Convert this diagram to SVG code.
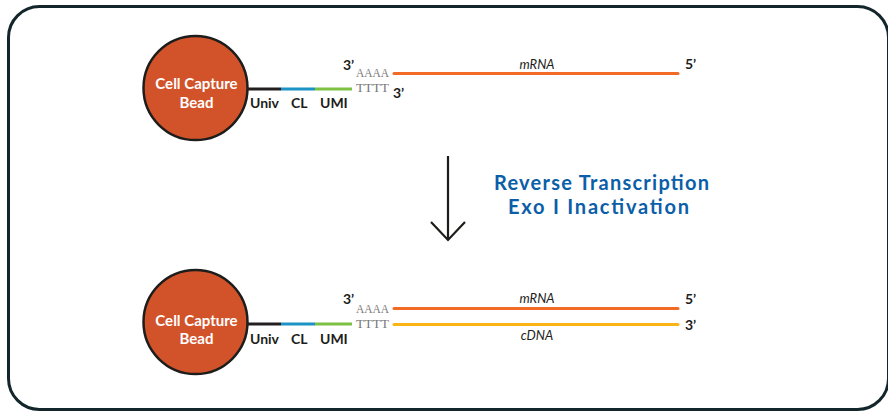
<svg xmlns="http://www.w3.org/2000/svg" width="888" height="411" viewBox="0 0 888 411">
  <style>
    .frame { fill: #ffffff; stroke: #13262b; stroke-width: 3; }
    .bead { fill: #d2532a; stroke: #1d1d1b; stroke-width: 2.5; }
    .beadtxt { font-family: Lato, "Open Sans", sans-serif; font-weight: bold; font-size: 15px; fill: #ffffff; text-anchor: middle; }
    .seg { stroke-width: 3; fill: none; }
    .lbl { font-family: Lato, "Open Sans", sans-serif; font-weight: bold; font-size: 14px; fill: #1d1d1b; }
    .end { font-family: Lato, "Open Sans", sans-serif; font-weight: bold; font-size: 14px; fill: #1d1d1b; }
    .mono { font-family: "Liberation Serif", "DejaVu Serif", serif; font-size: 12.5px; fill: #7a7a7a; }
    .strand { font-family: Lato, "Open Sans", sans-serif; font-style: italic; font-size: 13px; fill: #1d1d1b; text-anchor: middle; }
    .step { font-family: Lato, "Open Sans", sans-serif; font-weight: bold; font-size: 20px; fill: #0b5ea8; }
  </style>

  <rect class="frame" x="8.5" y="6.5" width="880" height="403" rx="31" ry="31"/>

  <!-- Before reverse transcription -->
  <g id="bead-top">
    <circle class="bead" cx="195.5" cy="88" r="52"/>
    <text class="beadtxt" x="196.5" y="89">Cell Capture</text>
    <text class="beadtxt" x="196.5" y="107.5">Bead</text>
  </g>
  <g id="oligo-top">
    <line class="seg" x1="247" y1="89" x2="281" y2="89" stroke="#231f20"/>
    <line class="seg" x1="281" y1="89" x2="315" y2="89" stroke="#1b93c4"/>
    <line class="seg" x1="315" y1="89" x2="352" y2="89" stroke="#7cc142"/>
    <text class="lbl" x="250" y="108">Univ</text>
    <text class="lbl" x="291" y="108">CL</text>
    <text class="lbl" x="320" y="108">UMI</text>
    <text class="end" x="343" y="70">3’</text>
    <text class="mono" x="356" y="77" textLength="33" lengthAdjust="spacingAndGlyphs">AAAA</text>
    <text class="mono" x="356" y="92" textLength="33" lengthAdjust="spacingAndGlyphs">TTTT</text>
    <text class="end" x="393" y="98">3’</text>
  </g>
  <g id="mrna-top">
    <line class="seg" x1="394" y1="73.5" x2="678" y2="73.5" stroke="#f26a25" stroke-linecap="round"/>
    <text class="strand" x="537" y="69">mRNA</text>
    <text class="end" x="685" y="69">5’</text>
  </g>

  <!-- Process step -->
  <g id="connectors">
    <path d="M448 156 V240 M431 222 L448 240 L465 222" fill="none" stroke="#1d1d1b" stroke-width="2.2"/>
  </g>
  <g id="step-label">
    <text class="step" x="494" y="189.5" textLength="215" lengthAdjust="spacing">Reverse Transcription</text>
    <text class="step" x="508" y="213.5" textLength="181" lengthAdjust="spacing">Exo I Inactivation</text>
  </g>

  <!-- After reverse transcription -->
  <g id="bead-bottom">
    <circle class="bead" cx="195.5" cy="322" r="52"/>
    <text class="beadtxt" x="196.5" y="325.5">Cell Capture</text>
    <text class="beadtxt" x="196.5" y="344">Bead</text>
  </g>
  <g id="oligo-bottom">
    <line class="seg" x1="247" y1="324" x2="281" y2="324" stroke="#231f20"/>
    <line class="seg" x1="281" y1="324" x2="315" y2="324" stroke="#1b93c4"/>
    <line class="seg" x1="315" y1="324" x2="352" y2="324" stroke="#7cc142"/>
    <text class="lbl" x="250" y="344">Univ</text>
    <text class="lbl" x="291" y="344">CL</text>
    <text class="lbl" x="320" y="344">UMI</text>
    <text class="end" x="343" y="304">3’</text>
    <text class="mono" x="356" y="313" textLength="33" lengthAdjust="spacingAndGlyphs">AAAA</text>
    <text class="mono" x="356" y="328" textLength="33" lengthAdjust="spacingAndGlyphs">TTTT</text>
  </g>
  <g id="mrna-bottom">
    <line class="seg" x1="394" y1="308.5" x2="678" y2="308.5" stroke="#f26a25" stroke-linecap="round"/>
    <text class="strand" x="537" y="303">mRNA</text>
    <text class="end" x="685" y="304">5’</text>
  </g>
  <g id="cdna-bottom">
    <line class="seg" x1="394" y1="324.5" x2="678" y2="324.5" stroke="#fbb415" stroke-linecap="round"/>
    <text class="strand" x="537" y="340">cDNA</text>
    <text class="end" x="685" y="330">3’</text>
  </g>
</svg>
